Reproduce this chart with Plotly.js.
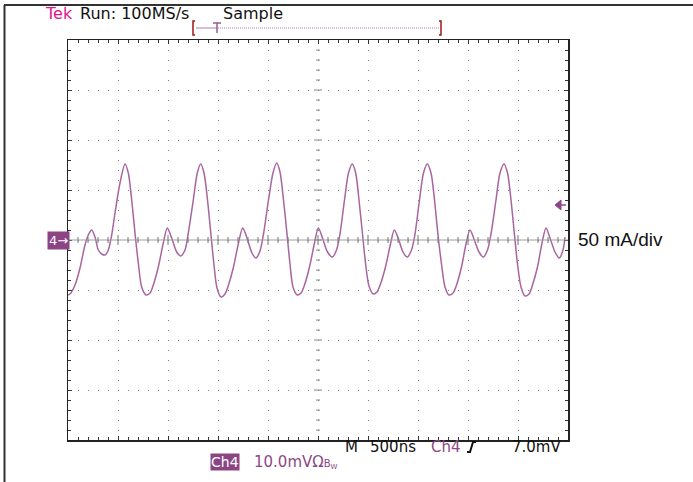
<!DOCTYPE html>
<html>
<head>
<meta charset="utf-8">
<script src="https://cdn.plot.ly/plotly-3.0.1.min.js"></script>
<style>html,body{margin:0;padding:0;background:#fff;}#chart{width:693px;height:482px;}</style>
</head>
<body>
<div id="chart"></div>
<script>
// Ch4 current waveform, time in ns (500 ns/div), current in mA (50 mA/div)
const timeNs = [
  0, 20, 70, 120, 170, 203, 237, 270, 303, 337, 370, 403, 437, 470, 520, 570,
  603, 637, 670, 703, 737, 780, 820, 853, 903, 953, 993, 1037, 1087, 1127, 1170, 1203, 1253, 1293, 1327,
  1360, 1395, 1430, 1460, 1490, 1530, 1570, 1605, 1655, 1705, 1747, 1790, 1840, 1880, 1920, 1955, 2005, 2050, 2087,
  2120, 2155, 2190, 2220, 2250, 2293, 2330, 2365, 2415, 2465, 2503, 2545, 2595, 2643, 2685, 2720, 2765, 2805, 2843,
  2877, 2910, 2945, 2975, 3010, 3053, 3090, 3125, 3175, 3225, 3263, 3305, 3350, 3393, 3435, 3470, 3515, 3555, 3593,
  3630, 3665, 3700, 3735, 3770, 3810, 3850, 3885, 3935, 3980, 4020, 4060, 4110, 4153, 4195, 4230, 4280, 4320, 4360,
  4395, 4430, 4465, 4495, 4530, 4570, 4610, 4645, 4695, 4740, 4780, 4820, 4870, 4913, 4950, 4970
];
const currentMa = [
  -55, -54, -45, -28, -5, 5, 10, 3, -10, -14, -15, -10, 5, 27, 57, 76,
  67, 40, 7, -23, -47, -55, -53, -45, -27, -3, 12, 2, -12, -16, -10, 7, 40, 67, 76,
  67, 40, 5, -25, -48, -57, -54, -45, -27, -3, 12, 2, -13, -18, -11, 6, 40, 67, 77,
  68, 40, 6, -24, -47, -55, -53, -45, -27, -3, 12, 2, -12, -17, -10, 6, 40, 67, 76,
  67, 40, 6, -23, -46, -54, -52, -44, -27, -4, 10, 1, -12, -17, -10, 6, 40, 67, 76,
  67, 40, 5, -24, -47, -55, -53, -45, -27, -4, 10, 1, -12, -17, -10, 6, 40, 67, 76,
  67, 40, 5, -24, -47, -56, -54, -45, -27, -3, 12, 2, -12, -18, -10, 3
];
const xRange = [0, 5000];      // 10 divisions of 500 ns
const yRange = [-200, 200];    // 8 divisions of 50 mA
const xMinor = 100, yMinor = 10;
const topTexts = ['Tek', 'Run: 100MS/s', 'Sample'];
const bottomTexts = ['M', '500ns', 'Ch4', '7.0mV'];
const scaleText = '50 mA/div';
const chText = '10.0mVΩ';

// layout geometry helpers (pixel -> paper)
const L = 68, T = 40, W = 500, H = 400;
const px = v => (v - L) / W;
const py = v => (T + H - v) / H;

const purple = '#8e4786';
const traceColor = '#a8659f';

const shapes = [];
// outer frame (top and left)
shapes.push({type:'line', xref:'paper', yref:'paper', x0:px(4), x1:px(693), y0:py(5), y1:py(5), line:{color:'#333', width:2}});
shapes.push({type:'line', xref:'paper', yref:'paper', x0:px(4.5), x1:px(4.5), y0:py(5), y1:py(482), line:{color:'#333', width:2}});
// center cross lines
const xc = (xRange[0] + xRange[1]) / 2, yc = (yRange[0] + yRange[1]) / 2;
shapes.push({type:'line', xref:'x', yref:'y', x0:xRange[0], x1:xRange[1], y0:yc, y1:yc, line:{color:'#a0a0a0', width:1.2}});
for (let t = xRange[0] + xMinor; t < xRange[1]; t += xMinor) {
  const len = (t % 500 === 0) ? 5 : 3;
  shapes.push({type:'line', xref:'x', yref:'y', x0:t, x1:t, y0:yc - len, y1:yc + len, line:{color:'#777', width:1}});
}
for (let v = yRange[0] + yMinor; v < yRange[1]; v += yMinor) {
  const len = (v % 50 === 0) ? 40 : 20;
  shapes.push({type:'line', xref:'x', yref:'y', x0:xc - len, x1:xc + len, y0:v, y1:v, line:{color:'#888', width:1}});
}
// trigger position bracket at top
shapes.push({type:'line', xref:'paper', yref:'paper', x0:px(196), x1:px(216), y0:py(28), y1:py(28), line:{color:'#b07aa8', width:1}});
shapes.push({type:'line', xref:'paper', yref:'paper', x0:px(216), x1:px(440), y0:py(28), y1:py(28), line:{color:'#b07aa8', width:1, dash:'1px,1px'}});
shapes.push({type:'line', xref:'paper', yref:'paper', x0:px(213), x1:px(221), y0:py(23), y1:py(23), line:{color:'#9a5a92', width:1.5}});
shapes.push({type:'line', xref:'paper', yref:'paper', x0:px(217), x1:px(217), y0:py(23), y1:py(33), line:{color:'#9a5a92', width:1.5}});
shapes.push({type:'path', xref:'paper', yref:'paper', path:`M${px(195)},${py(21)} L${px(193)},${py(21)} L${px(193)},${py(35)} L${px(195)},${py(35)}`, line:{color:'#a01818', width:1.5}});
shapes.push({type:'path', xref:'paper', yref:'paper', path:`M${px(439)},${py(21)} L${px(441)},${py(21)} L${px(441)},${py(35)} L${px(439)},${py(35)}`, line:{color:'#a01818', width:1.5}});
// trigger level arrow on right
shapes.push({type:'path', xref:'paper', yref:'paper', path:`M${px(555)},${py(205)} L${px(561)},${py(200)} L${px(561)},${py(210)} Z`, fillcolor:purple, line:{color:purple, width:1}});
shapes.push({type:'line', xref:'paper', yref:'paper', x0:px(561), x1:px(566), y0:py(205), y1:py(205), line:{color:purple, width:1.5}});
// rising-edge trigger symbol
shapes.push({type:'path', xref:'paper', yref:'paper', path:`M${px(467)},${py(452)} L${px(470)},${py(452)} L${px(473)},${py(442)} L${px(476)},${py(442)}`, line:{color:'#111', width:2}});

const fontFam = 'DejaVu Sans, sans-serif';
const ann = (text, x, y, color, size, extra) => Object.assign({
  text, xref:'paper', yref:'paper', x:px(x), y:py(y), xanchor:'left', yanchor:'middle',
  showarrow:false, font:{family:fontFam, size, color}, borderpad:0
}, extra || {});

const annotations = [
  ann(topTexts[0], 44, 13, '#e5138b', 16),
  ann(topTexts[1], 79, 13, '#111', 16),
  ann(topTexts[2], 222, 13, '#111', 16),
  ann(bottomTexts[0], 344, 447, '#111', 15),
  ann(bottomTexts[1], 369, 447, '#111', 15),
  ann(bottomTexts[2], 430, 447, purple, 15),
  ann(bottomTexts[3], 511, 447, '#111', 15),
  ann(bottomTexts[2], 210, 462, '#fff', 14, {bgcolor:'#8b4584', borderpad:0}),
  ann(chText + '<span style="font-size:10px">B<sub>W</sub></span>', 253, 462, purple, 15),
  ann('4→', 47, 240, '#fff', 13, {bgcolor:'#8b4584', borderpad:1}),
  ann(scaleText, 577, 239, '#111', 18, {font:{family:'Liberation Sans, Arial, sans-serif', size:19, color:'#111'}})
];

const axisCommon = {
  showticklabels:false, ticks:'inside', ticklen:4, tickcolor:'#333', tickwidth:1,
  showline:true, linecolor:'#222', linewidth:1.5, mirror:'allticks',
  showgrid:true, gridcolor:'#808080', gridwidth:1, griddash:'1px,9px',
  zeroline:false, fixedrange:true
};

const data = [{
  type:'scatter', mode:'lines', x:timeNs, y:currentMa,
  line:{color:traceColor, width:1.5, shape:'spline', smoothing:0.8},
  hoverinfo:'skip'
}];

const layout = {
  width:693, height:482,
  margin:{l:L, r:693 - L - W, t:T, b:482 - T - H, pad:0},
  paper_bgcolor:'#fff', plot_bgcolor:'#fff',
  showlegend:false,
  xaxis:Object.assign({}, axisCommon, {range:xRange, dtick:500, tick0:0,
    minor:{dtick:xMinor, ticks:'inside', ticklen:3, tickcolor:'#333', showgrid:false}}),
  yaxis:Object.assign({}, axisCommon, {range:yRange, dtick:50, tick0:0,
    minor:{dtick:yMinor, ticks:'inside', ticklen:3, tickcolor:'#333', showgrid:false}}),
  shapes, annotations
};

Plotly.newPlot('chart', data, layout, {staticPlot:true, displayModeBar:false});
</script>
</body>
</html>
